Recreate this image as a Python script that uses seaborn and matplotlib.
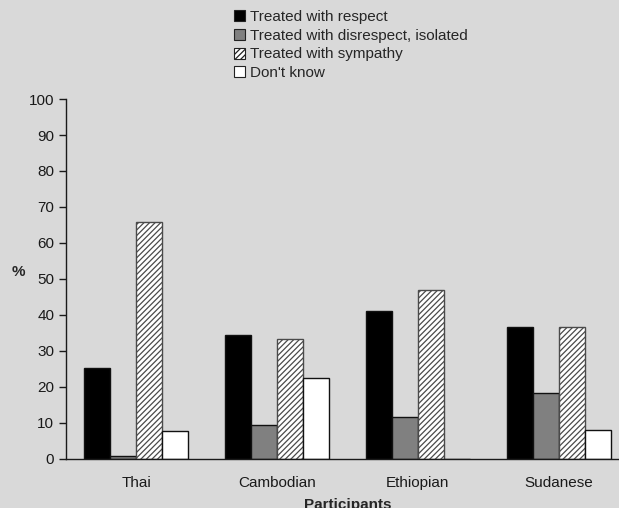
import pandas as pd
import matplotlib
matplotlib.use("Agg")
import matplotlib.pyplot as plt
from matplotlib.patches import Patch
import seaborn as sns

# Data (percent)
participants = ["Thai", "Cambodian", "Ethiopian", "Sudanese"]
responses = ["Treated with respect", "Treated with disrespect, isolated",
             "Treated with sympathy", "Don't know"]
respect = [25.4, 34.4, 41.2, 36.6]
disrespect = [0.9, 9.5, 11.7, 18.2]
sympathy = [65.7, 33.2, 47.0, 36.6]
dont_know = [7.8, 22.5, 0.0, 8.1]

# Styles per response
fills = ["#000000", "#808080", "#ffffff", "#ffffff"]
hatches = [None, None, "//////", None]

# Long form table for seaborn
rows = []
for resp, vals in zip(responses, [respect, disrespect, sympathy, dont_know]):
    for p, v in zip(participants, vals):
        rows.append({"Participants": p, "Response": resp, "Percent": v})
df = pd.DataFrame(rows)

sns.set_theme(style="white")
bg = "#d9d9d9"
plt.rcParams["font.family"] = ["Liberation Sans", "DejaVu Sans"]
plt.rcParams["hatch.linewidth"] = 0.9

fs = 11
fig = plt.figure(figsize=(6.19, 5.08), dpi=100, facecolor=bg)
ax = fig.add_axes([66 / 619, 49 / 508, 563 / 619, 360 / 508], facecolor=bg)

sns.barplot(data=df, x="Participants", y="Percent", hue="Response",
            hue_order=responses, order=participants, palette=fills,
            width=0.74, saturation=1, legend=False, ax=ax,
            edgecolor="#111111", linewidth=1.0)

for cont, h in zip(ax.containers, hatches):
    if h:
        for bar in cont:
            bar.set_hatch(h)
            bar.set_edgecolor("#4a4a4a")

ax.set_ylim(0, 100)
ax.set_xlim(-0.5, 3.5)
ax.set_yticks(range(0, 101, 10))
ax.set_xticks(range(len(participants)))
ax.set_xticklabels(participants)
ax.set_xticks([-0.5, 0.5, 1.5, 2.5, 3.5], minor=True)
ax.tick_params(axis="x", which="major", length=0, pad=12, labelsize=fs, colors="#1a1a1a")
ax.tick_params(axis="x", which="minor", length=5, width=1, direction="out", color="#1a1a1a")
ax.tick_params(axis="y", length=5, width=1, direction="out", labelsize=fs,
               left=True, colors="#1a1a1a")

sns.despine(ax=ax)
for side in ["left", "bottom"]:
    ax.spines[side].set_color("#1a1a1a")
    ax.spines[side].set_linewidth(1.0)

ax.set_ylabel("%", rotation=0, fontsize=fs, fontweight="bold", labelpad=0)
ax.yaxis.set_label_coords(-0.085, 0.5)
ax.set_xlabel("Participants", fontsize=fs, fontweight="bold", labelpad=6)

handles = [Patch(facecolor=f, edgecolor="#222222", hatch=h, linewidth=0.8)
           for f, h in zip(fills, hatches)]
fig.legend(handles, responses, loc="upper left", bbox_to_anchor=(234 / 619, 1 - 10 / 508),
           frameon=False, fontsize=fs, borderpad=0, borderaxespad=0,
           handlelength=0.72, handleheight=0.72, handletextpad=0.3, labelspacing=0.31)

fig.savefig("out.png", dpi=100, facecolor=bg)
